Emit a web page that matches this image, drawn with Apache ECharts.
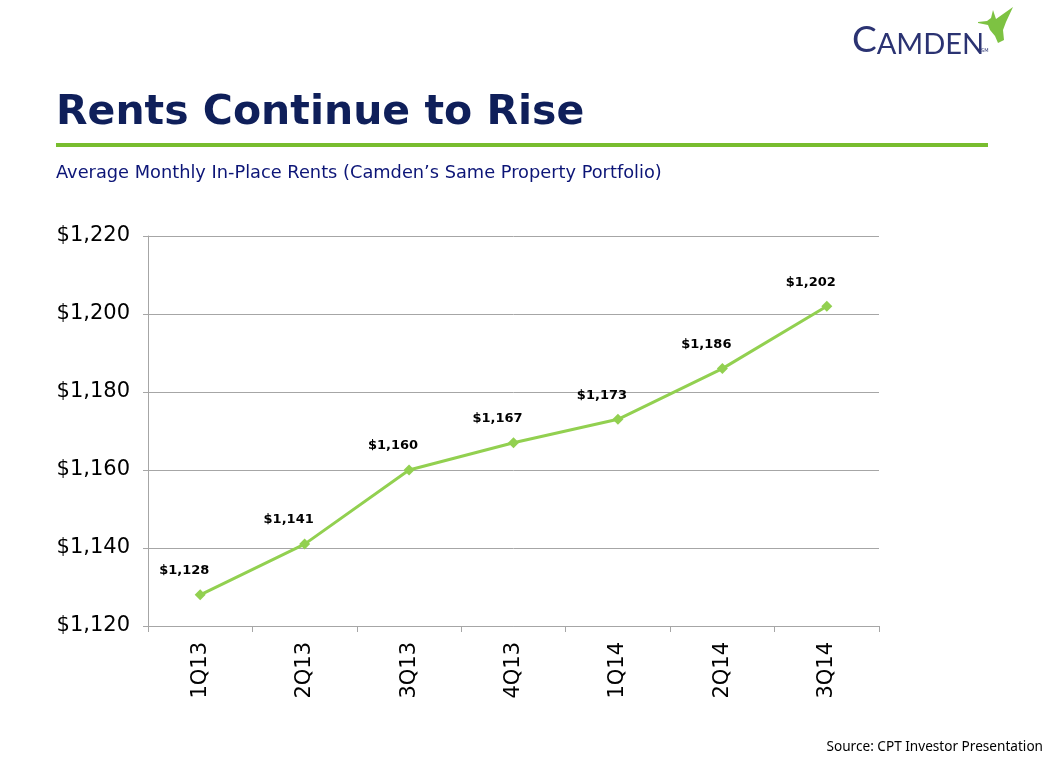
<!DOCTYPE html>
<html><head><meta charset="utf-8">
<script src="https://cdn.jsdelivr.net/npm/echarts@6/dist/echarts.min.js"></script>
<style>html,body{margin:0;padding:0;background:#fff}#c{width:1060px;height:759px}</style>
</head><body><div id="c"></div>
<script>
const categories = ['1Q13','2Q13','3Q13','4Q13','1Q14','2Q14','3Q14'];
const rents = [1128, 1141, 1160, 1167, 1173, 1186, 1202];
const yTicks = { min: 1120, max: 1220, interval: 20 };
const titleText = 'Rents Continue to Rise';
const subtitleText = 'Average Monthly In-Place Rents (Camden\u2019s Same Property Portfolio)';
const sourceText = 'Source: CPT Investor Presentation';

const NAVY = '#0f1f5a';
const GREEN = '#78bd2e';
const fmt = v => '$' + v.toLocaleString('en-US');

const chart = echarts.init(document.getElementById('c'), null, {renderer: 'canvas'});
chart.setOption({
  backgroundColor: '#fff',
  animation: false,
  grid: { left: 148, right: 181, top: 236, bottom: 133, containLabel: false },
  xAxis: {
    type: 'category', data: categories, boundaryGap: true,
    axisLine: { lineStyle: { color: '#a6a6a6', width: 1 } },
    axisTick: { show: true, length: 6, lineStyle: { color: '#a6a6a6' } },
    axisLabel: { rotate: 90, margin: 16, color: '#000', fontSize: 21, fontFamily: 'DejaVu Sans' },
    splitLine: { show: false }
  },
  yAxis: {
    type: 'value', min: yTicks.min, max: yTicks.max, interval: yTicks.interval,
    axisLine: { show: true, lineStyle: { color: '#a6a6a6', width: 1 } },
    axisTick: { show: true, length: 5, lineStyle: { color: '#a6a6a6' } },
    axisLabel: { margin: 18, color: '#000', fontSize: 21, fontFamily: 'DejaVu Sans', padding: [4, 0, 0, 0], formatter: v => fmt(v) },
    splitLine: { show: true, lineStyle: { color: '#a6a6a6', width: 1 } }
  },
  series: [{
    type: 'line', data: rents,
    symbol: 'diamond', symbolSize: 11,
    lineStyle: { color: '#92d050', width: 3 },
    itemStyle: { color: '#92d050' },
    label: {
      show: true, position: 'top', offset: [-16, -7],
      color: '#000', fontSize: 13, fontWeight: 'bold', fontFamily: 'DejaVu Sans',
      formatter: p => fmt(p.value)
    }
  }],
  graphic: [
    { type: 'text', left: 56, top: 93, style: { text: titleText, fill: NAVY, font: 'bold 41px "DejaVu Sans"' } },
    { type: 'rect', shape: { x: 56, y: 143, width: 932, height: 4 }, style: { fill: GREEN } },
    { type: 'text', left: 56, top: 164, style: { text: subtitleText, fill: '#0c1577', font: '17.8px "DejaVu Sans"' } },
    { type: 'text', right: 17, top: 740, style: { text: sourceText, fill: '#000', font: '13.6px "Noto Sans"' } },
    { type: 'text', left: 852, top: 22, style: {
      text: '{c|C}{r|AMDEN}', rich: {
        c: { fontSize: 37, fill: '#2b3372', fontFamily: 'Lato', verticalAlign: 'bottom' },
        r: { fontSize: 29, fill: '#2b3372', fontFamily: 'Lato', verticalAlign: 'bottom' }
      } } },
    { type: 'text', left: 981, top: 48, style: { text: 'SM', fill: '#2b3372', font: '5px "DejaVu Sans"' } },
    { type: 'polygon', shape: { points: [[978,22],[987,21],[991,18],[993,10],[996,19],[1013,7],[1006,22],[1003,30],[1004,40],[998,43],[995,36],[990,30],[988,25],[978,23]] },
      style: { fill: '#7dc242' } }
  ]
});
</script></body></html>
